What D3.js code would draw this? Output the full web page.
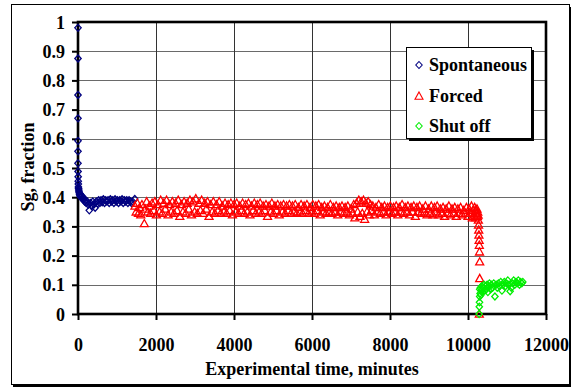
<!DOCTYPE html>
<html><head><meta charset="utf-8">
<script src="https://cdn.jsdelivr.net/npm/d3@7"></script>
<style>
html,body{margin:0;padding:0;background:#fff;}
svg text{font-family:"Liberation Serif","Times New Roman",serif;font-weight:bold;fill:#000;}
</style></head>
<body>
<svg id="chart" width="573" height="389"></svg>
<script>
const xTicks = [0, 2000, 4000, 6000, 8000, 10000, 12000];
const yTicks = [0, 0.1, 0.2, 0.3, 0.4, 0.5, 0.6, 0.7, 0.8, 0.9, 1];
const yTickLabels = ["0","0.1","0.2","0.3","0.4","0.5","0.6","0.7","0.8","0.9","1"];
const seriesNames = ["Spontaneous", "Forced", "Shut off"];

const spontaneous = [[0,0.98],[0,0.875],[0,0.75],[0,0.67],[0,0.593],[0,0.557],[0,0.516],[2,0.488],[4,0.47],[6,0.455],[8,0.445],[10,0.435],[15,0.43],[20,0.425],[25,0.42],[30,0.415],[40,0.41],[50,0.405],[60,0.41],[75,0.4],[90,0.405],[110,0.395],[130,0.4],[150,0.39],[170,0.385],[190,0.39],[210,0.38],[240,0.385],[265,0.375],[290,0.355],[320,0.38],[350,0.37],[380,0.385],[410,0.375],[440,0.364],[470,0.385],[500,0.378],[530,0.39],[560,0.38],[590,0.39],[620,0.383],[650,0.393],[680,0.38],[710,0.39],[740,0.385],[770,0.39],[800,0.38],[830,0.393],[860,0.385],[890,0.39],[920,0.38],[950,0.393],[980,0.385],[1010,0.39],[1040,0.38],[1070,0.39],[1100,0.385],[1130,0.393],[1160,0.38],[1190,0.39],[1220,0.385],[1250,0.39],[1280,0.38],[1310,0.39],[1340,0.385],[1370,0.38],[1400,0.385],[1455,0.394]];

const forced = [[1460,.37],[1490,.35],[1520,.38],[1550,.345],[1580,.365],[1610,.34],[1640,.375],[1700,.31],[1720,.36],[1760,.385],[1790,.35],[1830,.37],[1860,.345],[1900,.38],[1940,.355],[1970,.385],[2010,.34],[2050,.375],[2090,.35],[2120,.39],[2160,.345],[2200,.38],[2240,.36],[2270,.39],[2310,.34],[2350,.375],[2390,.35],[2420,.385],[2460,.345],[2500,.38],[2540,.355],[2570,.39],[2610,.335],[2650,.375],[2690,.35],[2720,.385],[2760,.345],[2800,.38],[2840,.36],[2870,.39],[2910,.34],[2950,.385],[2990,.35],[3020,.395],[3060,.345],[3100,.38],[3140,.355],[3170,.39],[3210,.345],[3250,.38],[3290,.36],[3320,.385],[3360,.335],[3400,.375],[3440,.35],[3470,.385],[3510,.345],[3550,.375],[3590,.355],[3620,.385],[3660,.345],[3700,.37],[3740,.35],[3770,.38],[3810,.345],[3850,.375],[3890,.355],[3920,.38],[3960,.34],[4000,.375],[4040,.35],[4070,.38],[4110,.345],[4150,.37],[4190,.355],[4220,.38],[4260,.345],[4300,.375],[4340,.35],[4370,.38],[4410,.34],[4450,.37],[4490,.355],[4520,.38],[4560,.345],[4600,.375],[4640,.35],[4670,.38],[4710,.345],[4750,.37],[4790,.355],[4820,.375],[4860,.335],[4900,.37],[4940,.35],[4970,.38],[5010,.345],[5050,.37],[5090,.355],[5120,.375],[5160,.34],[5200,.37],[5240,.35],[5270,.375],[5310,.345],[5350,.37],[5390,.355],[5420,.375],[5460,.345],[5500,.37],[5540,.35],[5570,.375],[5610,.345],[5650,.365],[5690,.35],[5720,.375],[5760,.345],[5800,.37],[5840,.355],[5870,.375],[5910,.345],[5950,.365],[5990,.35],[6020,.375],[6060,.345],[6100,.37],[6140,.355],[6170,.375],[6210,.34],[6250,.365],[6290,.35],[6320,.37],[6360,.345],[6400,.365],[6440,.35],[6470,.375],[6510,.345],[6550,.365],[6590,.35],[6620,.37],[6660,.34],[6700,.365],[6740,.35],[6770,.37],[6810,.345],[6850,.365],[6890,.35],[6920,.37],[6960,.34],[7000,.36],[7040,.345],[7070,.375],[7100,.33],[7140,.38],[7170,.35],[7200,.39],[7230,.335],[7260,.385],[7290,.345],[7320,.39],[7350,.325],[7380,.38],[7410,.35],[7440,.385],[7470,.34],[7500,.375],[7530,.355],[7560,.37],[7600,.34],[7640,.365],[7680,.35],[7710,.375],[7750,.345],[7790,.365],[7830,.35],[7860,.37],[7900,.34],[7940,.365],[7980,.35],[8010,.37],[8050,.345],[8090,.365],[8130,.35],[8160,.37],[8200,.34],[8240,.365],[8280,.35],[8310,.375],[8350,.345],[8390,.365],[8430,.35],[8460,.37],[8500,.34],[8540,.365],[8580,.35],[8610,.37],[8650,.335],[8690,.365],[8730,.35],[8760,.37],[8800,.345],[8840,.36],[8880,.35],[8910,.37],[8950,.34],[8990,.36],[9030,.345],[9060,.37],[9100,.34],[9140,.365],[9180,.35],[9210,.37],[9250,.34],[9290,.36],[9330,.345],[9360,.365],[9400,.335],[9440,.36],[9480,.345],[9510,.37],[9550,.34],[9590,.36],[9630,.345],[9660,.365],[9700,.335],[9740,.36],[9780,.345],[9810,.365],[9850,.34],[9890,.355],[9930,.345],[9960,.365],[10000,.335],[10030,.36],[10060,.345],[10090,.37],[10110,.33],[10130,.355],[10150,.34],[10170,.365],[10190,.33],[10200,.355],[10215,.345],[10230,.36],[10240,.335],[10250,.35],[10260,.339],[10265,.322],[10270,.305],[10275,.288],[10280,.271],[10285,.253],[10290,.236],[10295,.213],[10300,.179],[10300,.122],[10290,0]];

const shutOff = [[10285,0],[10290,0.025],[10295,0.04],[10300,0.06],[10300,0.085],[10310,0.07],[10320,0.09],[10330,0.065],[10340,0.08],[10350,0.095],[10370,0.075],[10390,0.09],[10410,0.1],[10430,0.08],[10450,0.095],[10470,0.085],[10490,0.1],[10510,0.075],[10530,0.095],[10550,0.105],[10580,0.085],[10600,0.1],[10630,0.09],[10660,0.105],[10690,0.06],[10720,0.1],[10750,0.09],[10780,0.105],[10810,0.095],[10840,0.11],[10870,0.08],[10900,0.1],[10930,0.11],[10960,0.095],[10990,0.105],[11020,0.115],[11050,0.1],[11080,0.078],[11110,0.09],[11140,0.105],[11170,0.115],[11200,0.1],[11230,0.11],[11260,0.105],[11290,0.115],[11320,0.1],[11350,0.11],[11380,0.105],[11405,0.11]];

const svg = d3.select("#chart");
const M = {left: 78, right: 546, top: 22, bottom: 314};
const x = d3.scaleLinear().domain([0, 12000]).range([M.left, M.right]);
const y = d3.scaleLinear().domain([0, 1]).range([M.bottom, M.top]);

// outer frame with shadow
svg.append("rect").attr("x", 13).attr("y", 7).attr("width", 558).attr("height", 380).attr("fill", "#000");
svg.append("rect").attr("x", 11.5).attr("y", 4.5).attr("width", 558).attr("height", 380).attr("fill", "#fff").attr("stroke", "#000").attr("stroke-width", 1);

// gridlines
svg.append("g").selectAll("line").data(yTicks.slice(1, -1)).join("line")
  .attr("x1", M.left).attr("x2", M.right)
  .attr("y1", d => Math.round(y(d)) + 0.5).attr("y2", d => Math.round(y(d)) + 0.5)
  .attr("stroke", "#6a6a6a").attr("stroke-width", 1.2);
svg.append("g").selectAll("line").data(xTicks.slice(1, -1)).join("line")
  .attr("y1", M.top).attr("y2", M.bottom)
  .attr("x1", d => Math.round(x(d)) + 0.5).attr("x2", d => Math.round(x(d)) + 0.5)
  .attr("stroke", "#333").attr("stroke-width", 1);

// axes
const yAxis = d3.axisLeft(y).tickValues(yTicks).tickSize(6).tickPadding(7)
  .tickFormat((d, i) => yTickLabels[i]);
const gy = svg.append("g").attr("transform", `translate(${M.left},0)`).call(yAxis);
gy.select(".domain").remove();
gy.selectAll(".tick line").attr("stroke", "#000").attr("stroke-width", 2);
gy.selectAll(".tick text").style("font-size", "18px").style("font-family", '"Liberation Serif",serif').style("font-weight", "bold").attr("dy", "0.34em");

const xAxis = d3.axisBottom(x).tickValues(xTicks).tickSize(6).tickPadding(18).tickFormat(d3.format("d"));
const gx = svg.append("g").attr("transform", `translate(0,${M.bottom})`).call(xAxis);
gx.select(".domain").remove();
gx.selectAll(".tick line").attr("stroke", "#000").attr("stroke-width", 2);
gx.selectAll(".tick text").style("font-size", "18px").style("font-family", '"Liberation Serif",serif').style("font-weight", "bold");

// plot frame
svg.append("rect").attr("x", M.left).attr("y", M.top).attr("width", M.right - M.left).attr("height", M.bottom - M.top)
  .attr("fill", "none").attr("stroke", "#000").attr("stroke-width", 2.6);

// markers
const diamond = "M0,-3.5L3.2,0L0,3.5L-3.2,0Z";
const triangle = "M0,-4L4,3.2L-4,3.2Z";
function drawSeries(data, path, color) {
  svg.append("g").selectAll("path").data(data).join("path")
    .attr("d", path)
    .attr("transform", d => `translate(${x(d[0])},${y(d[1])})`)
    .attr("fill", "none").attr("stroke", color).attr("stroke-width", 1.3);
}
drawSeries(spontaneous, diamond, "#000080");
drawSeries(forced, triangle, "#ff0000");
drawSeries(shutOff, diamond, "#00ee00");

// axis titles
svg.append("text").attr("x", 312).attr("y", 375).attr("text-anchor", "middle")
  .style("font-size", "18px").text("Experimental time, minutes");
svg.append("text").attr("transform", "translate(34,167) rotate(-90)").attr("text-anchor", "middle")
  .style("font-size", "18px").text("Sg, fraction");

// legend
const lg = svg.append("g");
lg.append("rect").attr("x", 409).attr("y", 50).attr("width", 125).attr("height", 91).attr("fill", "#000");
lg.append("rect").attr("x", 406.5).attr("y", 47.5).attr("width", 125).attr("height", 91).attr("fill", "#fff").attr("stroke", "#000").attr("stroke-width", 1);
const legendItems = [
  {name: seriesNames[0], path: diamond, color: "#000080", cy: 65},
  {name: seriesNames[1], path: triangle, color: "#ff0000", cy: 96},
  {name: seriesNames[2], path: diamond, color: "#00ee00", cy: 126}
];
legendItems.forEach(it => {
  lg.append("path").attr("d", it.path).attr("transform", `translate(419,${it.cy})`)
    .attr("fill", "none").attr("stroke", it.color).attr("stroke-width", 1.1);
  lg.append("text").attr("x", 429).attr("y", it.cy + 6).style("font-size", "18px").text(it.name);
});
</script>
</body></html>
